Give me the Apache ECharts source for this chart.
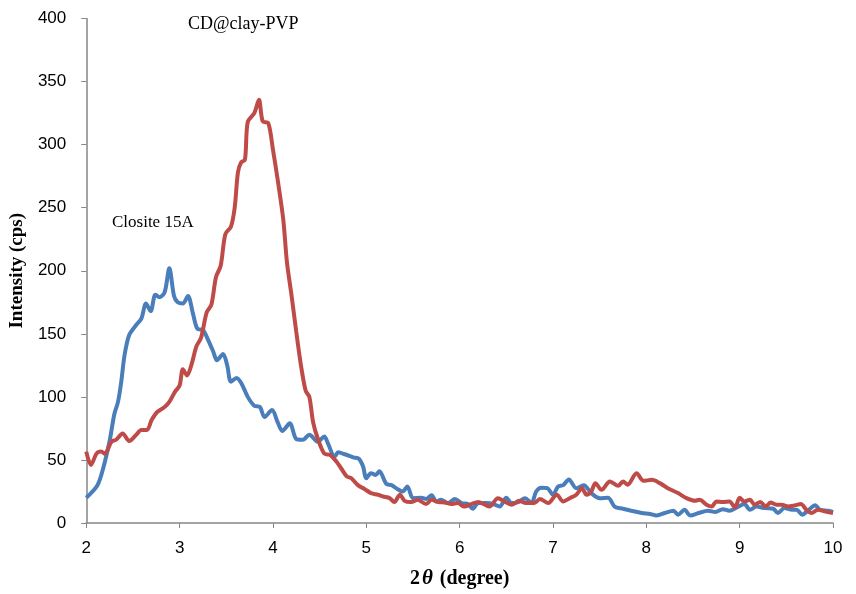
<!DOCTYPE html>
<html>
<head>
<meta charset="utf-8">
<script src="https://cdn.jsdelivr.net/npm/echarts@6/dist/echarts.min.js"></script>
<style>
  html, body { margin: 0; padding: 0; background: #fff; }
  #xrd { width: 856px; height: 594px; }
</style>
</head>
<body>
<div id="xrd"></div>
<script>
// 2θ (degree), intensity (cps) pairs
const closite15A = [
  [2.00, 20], [2.12, 30], [2.18, 43], [2.25, 65], [2.30, 86], [2.34, 96], [2.375, 112], [2.41, 133],
  [2.46, 149], [2.535, 157], [2.59, 162], [2.64, 174], [2.69, 168], [2.74, 181], [2.785, 179], [2.84, 183],
  [2.89, 202], [2.94, 180], [2.98, 175], [3.035, 174], [3.09, 180], [3.14, 167], [3.19, 154], [3.25, 153],
  [3.30, 146], [3.36, 136], [3.40, 129], [3.465, 134], [3.51, 125], [3.55, 112], [3.61, 115], [3.66, 111],
  [3.73, 100], [3.80, 93], [3.86, 92], [3.91, 84], [3.99, 89.5], [4.05, 80], [4.10, 73], [4.18, 79],
  [4.25, 66.6], [4.32, 66], [4.39, 70], [4.48, 64.5], [4.55, 68.5], [4.59, 63], [4.66, 52.7], [4.70, 56],
  [4.77, 54.5], [4.86, 52], [4.92, 51], [4.965, 45], [5.00, 35.5], [5.05, 39.5], [5.10, 38], [5.14, 41],
  [5.215, 31], [5.27, 30], [5.32, 27.6], [5.39, 25], [5.44, 29], [5.50, 19.7], [5.59, 20], [5.64, 19],
  [5.70, 22], [5.75, 17], [5.80, 18.4], [5.875, 15.8], [5.95, 19], [6.02, 15.8], [6.09, 15], [6.14, 11.3],
  [6.20, 15.8], [6.29, 15.8], [6.36, 15], [6.43, 13], [6.50, 20], [6.555, 15.8], [6.63, 16.6], [6.70, 19.7],
  [6.77, 15.8], [6.82, 25], [6.875, 28], [6.94, 27.6], [7.00, 22.4], [7.055, 29], [7.11, 30], [7.17, 34.5],
  [7.25, 27.6], [7.33, 30], [7.41, 23.7], [7.50, 19.7], [7.59, 20], [7.66, 13], [7.75, 11.3], [7.84, 9.7],
  [7.95, 7.9], [8.04, 7.1], [8.11, 6], [8.20, 7.9], [8.29, 9.7], [8.34, 6.6], [8.41, 10.5], [8.47, 6],
  [8.56, 7.9], [8.66, 9.7], [8.74, 8.7], [8.82, 11], [8.89, 9.7], [8.97, 12.4], [9.05, 15], [9.11, 10.5],
  [9.18, 13], [9.27, 11.8], [9.36, 11.3], [9.41, 7.9], [9.48, 11.8], [9.56, 10.5], [9.61, 10.5], [9.67, 6.6],
  [9.74, 10.5], [9.81, 14], [9.86, 10.5], [9.95, 9.7], [10.0, 8.7]
];

const cdClayPVP = [
  [2.00, 56.6], [2.05, 46], [2.11, 55], [2.16, 56.6], [2.20, 55], [2.27, 64.5], [2.32, 66], [2.39, 71],
  [2.46, 65], [2.535, 70], [2.59, 73.7], [2.65, 73.7], [2.70, 81.6], [2.76, 88], [2.84, 92], [2.89, 96],
  [2.95, 104], [3.00, 109], [3.035, 122], [3.08, 117], [3.125, 125], [3.18, 140], [3.23, 147], [3.29, 167],
  [3.34, 173], [3.39, 195], [3.44, 204], [3.49, 229], [3.55, 235], [3.59, 250], [3.625, 278], [3.66, 286],
  [3.70, 288], [3.73, 318], [3.80, 325], [3.85, 335.5], [3.89, 318.6], [3.95, 317], [4.00, 296], [4.05, 272.5],
  [4.11, 241], [4.15, 206.7], [4.20, 180], [4.25, 151.4], [4.30, 125], [4.35, 105], [4.39, 100], [4.43, 80],
  [4.48, 67], [4.55, 55], [4.61, 54], [4.68, 48.7], [4.73, 43.4], [4.79, 37], [4.84, 35.5], [4.91, 30],
  [4.98, 27], [5.05, 23.7], [5.125, 22.4], [5.18, 21], [5.25, 19.7], [5.30, 16.6], [5.36, 22.4], [5.41, 17.6],
  [5.48, 16.6], [5.55, 18.4], [5.64, 15], [5.70, 18.4], [5.77, 16.6], [5.84, 16.3], [5.91, 15], [5.98, 15.8],
  [6.05, 13], [6.125, 15], [6.20, 16.6], [6.26, 15], [6.32, 13], [6.41, 19.7], [6.48, 17], [6.555, 14.5],
  [6.64, 17.6], [6.71, 15.8], [6.80, 15.8], [6.86, 19], [6.95, 15.8], [7.04, 22.4], [7.11, 17], [7.18, 19.7],
  [7.25, 22.4], [7.31, 27.6], [7.36, 22.4], [7.41, 25], [7.455, 31.6], [7.52, 26.3], [7.61, 33], [7.70, 29.5],
  [7.75, 33], [7.80, 30.3], [7.895, 39.5], [7.97, 33.4], [8.06, 34.2], [8.145, 31.6], [8.23, 27.6], [8.34, 23.7],
  [8.43, 19.7], [8.52, 17.6], [8.57, 18.4], [8.645, 14.5], [8.70, 13], [8.75, 17], [8.82, 16.6], [8.89, 17],
  [8.95, 12.4], [9.00, 20], [9.05, 17], [9.11, 18.4], [9.16, 14.5], [9.22, 16.6], [9.28, 13], [9.33, 16.3],
  [9.395, 14.5], [9.45, 14.5], [9.52, 13], [9.59, 14], [9.655, 15], [9.715, 10.5], [9.77, 7.9], [9.84, 10.5],
  [9.91, 9.2], [10.0, 7.9]
];

const seriesNames = ['Closite 15A', 'CD@clay-PVP'];
const xTicks = [2, 10, 1];   // min, max, step
const yTicks = [0, 400, 50];

const chart = echarts.init(document.getElementById('xrd'));

const axisGrey = '#868686';
const serif = '"Liberation Serif", "Times New Roman", serif';
const sans = '"Liberation Sans", Arial, sans-serif';

const option = {
  animation: false,
  backgroundColor: '#fff',
  grid: { left: 85, right: 23, top: 18.5, bottom: 69, containLabel: false },
  xAxis: {
    type: 'value',
    min: xTicks[0],
    max: xTicks[1],
    interval: xTicks[2],
    name: '{b|2}{t|θ}{b| (degree)}',
    nameLocation: 'middle',
    nameGap: 45,
    nameTextStyle: {
      rich: {
        b: { fontFamily: serif, fontWeight: 'bold', fontSize: 20, color: '#000' },
        t: { fontFamily: serif, fontWeight: 'bold', fontStyle: 'italic', fontSize: 21, color: '#000', padding: [0, 2, 0, 2] }
      }
    },
    axisLine: { lineStyle: { color: axisGrey, width: 1.5 } },
    axisTick: { show: true, inside: false, length: 5, lineStyle: { color: axisGrey } },
    axisLabel: { margin: 17, color: '#000', fontFamily: sans, fontSize: 17 },
    splitLine: { show: false }
  },
  yAxis: {
    type: 'value',
    min: yTicks[0],
    max: yTicks[1],
    interval: yTicks[2],
    name: 'Intensity (cps)',
    nameLocation: 'middle',
    nameGap: 54,
    nameTextStyle: { fontFamily: serif, fontWeight: 'bold', fontSize: 19, color: '#000' },
    axisLine: { show: true, lineStyle: { color: axisGrey, width: 1.5 } },
    axisTick: { show: true, inside: false, length: 5, lineStyle: { color: axisGrey } },
    axisLabel: { margin: 20, color: '#000', fontFamily: sans, fontSize: 17 },
    splitLine: { show: false }
  },
  graphic: [
    {
      type: 'text', left: 188, top: 15,
      style: { text: 'CD@clay-PVP', font: '18px ' + serif, fill: '#000' }
    },
    {
      type: 'text', left: 112, top: 214,
      style: { text: 'Closite 15A', font: '17px ' + serif, fill: '#000' }
    }
  ],
  series: [
    {
      name: seriesNames[0],
      type: 'line',
      data: closite15A,
      smooth: 0.3,
      showSymbol: false,
      lineStyle: { color: '#4A7EBB', width: 4 },
      z: 2
    },
    {
      name: seriesNames[1],
      type: 'line',
      data: cdClayPVP,
      smooth: 0.3,
      showSymbol: false,
      lineStyle: { color: '#BE4B48', width: 4 },
      z: 3
    }
  ]
};

chart.setOption(option);
</script>
</body>
</html>
